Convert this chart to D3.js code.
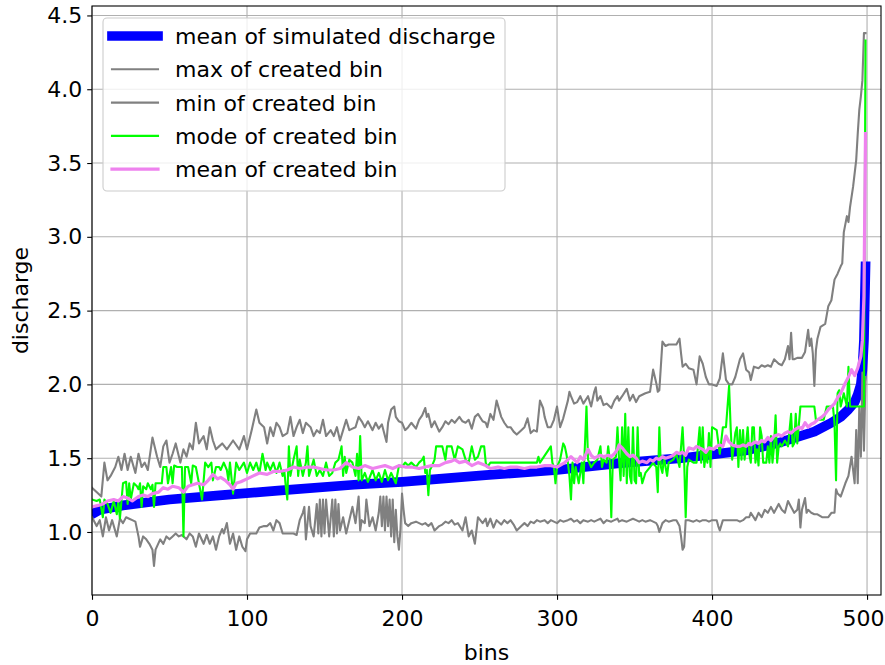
<!DOCTYPE html>
<html>
<head>
<meta charset="utf-8">
<script src="https://cdn.jsdelivr.net/npm/d3@7"></script>
<style>
  body { margin: 0; background: #fff; }
  text { font-family: "DejaVu Sans", sans-serif; }
</style>
</head>
<body>
<div id="chart"></div>
<script>
// tick values
var xTicks = [0, 100, 200, 300, 400, 500];
var yTicks = [1.0, 1.5, 2.0, 2.5, 3.0, 3.5, 4.0, 4.5];

// [bin, discharge]
var meanSimulated = [[0,1.12],[5,1.15],[20,1.18],[50,1.22],[84,1.25],[120,1.28],[169,1.32],[200,1.34],[254,1.385],[300,1.42],[339,1.465],[380,1.50],[423,1.555],[445,1.61],[466,1.68],[477,1.74],[483,1.78],[488,1.83],[492,1.88],[494,1.93],[496,2.0],[497,2.1],[498,2.3],[499,2.8]];

var maxOfBin = [[0,1.30],[4,1.26],[6,1.24],[8,1.47],[10,1.35],[12,1.38],[15,1.44],[17,1.51],[19,1.42],[21,1.53],[23,1.42],[25,1.51],[28,1.40],[30,1.53],[32,1.44],[34,1.47],[36,1.42],[39,1.64],[42,1.51],[44,1.44],[46,1.58],[48,1.62],[50,1.47],[52,1.53],[54,1.60],[57,1.47],[59,1.56],[61,1.51],[63,1.60],[65,1.56],[67,1.74],[69,1.60],[72,1.65],[74,1.56],[76,1.71],[78,1.62],[80,1.56],[82,1.58],
  [84,1.60],[87,1.56],[91,1.62],[95,1.56],[98,1.65],[100,1.56],[103,1.69],[106,1.83],[108,1.74],[111,1.71],[113,1.60],[115,1.71],[117,1.65],[119,1.74],[121,1.71],[123,1.65],[126,1.67],[128,1.78],[130,1.65],[132,1.71],[134,1.76],[136,1.67],[138,1.74],[141,1.71],[143,1.65],[145,1.69],[147,1.67],[149,1.76],[151,1.65],[154,1.69],[156,1.65],[158,1.71],[160,1.62],[162,1.69],[164,1.76],[166,1.69],[168,1.70],
  [170,1.71],[172,1.78],[174,1.75],[176,1.71],[178,1.75],[181,1.69],[183,1.74],[185,1.70],[187,1.73],[190,1.61],[191,1.74],[193,1.83],[195,1.85],[196,1.78],[198,1.75],[200,1.74],[202,1.69],[204,1.71],[206,1.74],[209,1.70],[211,1.76],[213,1.79],[215,1.84],[216,1.78],[217,1.80],[219,1.71],[221,1.75],[224,1.68],[226,1.71],[228,1.75],[230,1.73],[232,1.76],[234,1.74],[237,1.78],[239,1.75],[241,1.74],[243,1.76],[245,1.70],[247,1.78],[249,1.80],[252,1.75],
  [254,1.74],[255,1.71],[257,1.80],[259,1.76],[261,1.89],[264,1.78],[266,1.74],[268,1.71],[270,1.71],[272,1.68],[274,1.66],[277,1.69],[279,1.71],[281,1.77],[283,1.67],[285,1.69],[287,1.68],[289,1.89],[291,1.84],[292,1.78],[294,1.71],[296,1.71],[298,1.76],[300,1.85],[302,1.71],[304,1.77],[307,1.89],[308,1.95],[309,1.92],[311,1.87],[313,1.88],[315,1.92],[317,1.87],[320,1.92],[322,1.85],[324,1.95],[325,1.98],[326,1.89],[328,1.92],[330,1.86],[332,1.87],[335,1.84],[337,1.89],[339,1.92],
  [340,1.89],[342,1.92],[345,1.97],[347,1.89],[349,1.93],[351,1.88],[353,1.92],[355,1.93],[357,1.94],[360,1.95],[362,2.10],[364,2.01],[365,1.95],[366,1.96],[368,2.29],[370,2.26],[372,2.27],[375,2.27],[377,2.27],[379,2.31],[380,2.21],[381,2.12],[383,2.14],[385,2.11],[388,2.10],[390,2.00],[392,2.19],[394,2.14],[396,2.05],[398,2.00],[400,2.00],[403,1.99],[405,2.04],[407,2.21],[409,2.03],[411,2.00],[413,2.00],[415,2.05],[418,2.17],[420,2.21],[422,2.10],
  [424,2.08],[425,2.03],[427,2.12],[430,2.11],[432,2.13],[434,2.12],[436,2.13],[438,2.12],[440,2.17],[443,2.14],[445,2.13],[447,2.17],[449,2.26],[450,2.17],[451,2.35],[452,2.17],[453,2.17],[455,2.18],[458,2.18],[460,2.22],[462,2.37],[463,2.26],[464,2.31],[465,2.21],[466,1.99],[467,2.23],[468,2.31],[470,2.39],[473,2.41],[475,2.53],[477,2.57],[479,2.71],[481,2.75],[483,2.80],[484,2.82],[485,3.03],[487,3.14],[488,3.10],[489,3.20],[491,3.34],[493,3.52],[494,3.70],[495,3.86],[496,3.95],[497,4.06],[498,4.38],[499,4.38]];

var minOfBin = [[0,1.10],[3,1.04],[5,1.08],[7,0.97],[9,1.10],[11,1.01],[13,1.08],[16,0.97],[18,1.09],[20,1.06],[22,1.10],[24,1.09],[26,1.08],[28,1.07],[30,0.97],[31,0.90],[33,0.97],[35,0.95],[37,0.92],[39,0.88],[40,0.77],[41,0.88],[44,0.95],[46,0.92],[48,0.97],[50,0.95],[52,0.97],[54,0.99],[56,0.97],[58,0.98],[61,0.95],[63,0.99],[65,0.97],[67,0.90],[69,0.99],[72,0.92],[74,0.98],[76,0.92],[78,0.97],[80,0.88],[82,0.97],
  [84,1.02],[85,0.99],[87,1.06],[89,0.92],[91,0.99],[93,0.88],[95,0.97],[97,0.90],[99,0.87],[100,0.95],[102,0.99],[104,0.99],[106,0.99],[108,1.03],[111,1.04],[113,1.04],[115,1.06],[117,1.01],[119,1.08],[121,1.06],[123,0.99],[126,0.99],[128,0.99],[130,0.99],[132,0.98],[134,1.08],[136,1.13],[137,1.17],[138,0.95],[140,1.17],[141,1.04],[143,0.97],[145,1.19],[146,0.99],[147,1.22],[148,0.97],[149,1.22],[150,0.99],[151,1.22],[153,0.97],[155,1.22],[156,0.97],[157,1.22],[158,0.99],[159,1.19],[160,1.01],[162,1.10],[164,0.99],[166,1.08],
  [168,1.17],[170,1.06],[172,1.24],[173,1.01],[174,1.08],[176,1.06],[177,1.22],[179,1.04],[181,1.10],[183,1.01],[185,1.13],[186,1.24],[187,1.04],[188,1.24],[189,1.01],[190,1.24],[191,1.04],[192,1.22],[193,0.97],[194,1.22],[195,0.93],[196,1.15],[197,0.97],[198,0.88],[199,1.02],[200,1.26],[201,1.15],[202,1.06],[204,1.04],[206,1.06],[209,1.07],[211,1.06],[213,1.05],[215,1.06],[217,1.04],[219,1.06],[221,1.01],[224,1.04],[226,1.05],[228,1.07],[230,1.06],[232,1.08],[234,1.05],[236,1.06],[239,1.01],[241,1.10],[243,0.97],[245,1.01],[247,0.92],[249,1.10],[252,1.06],
  [254,1.09],[255,1.04],[257,1.09],[259,1.03],[261,1.08],[264,1.05],[266,1.08],[268,1.06],[270,1.08],[272,1.05],[274,1.01],[277,1.04],[279,1.06],[281,1.04],[283,1.07],[285,1.06],[287,1.08],[289,1.07],[292,1.08],[294,1.06],[296,1.08],[298,1.07],[300,1.06],[302,1.08],[304,1.07],[307,1.08],[309,1.09],[311,1.07],[313,1.08],[315,1.06],[317,1.08],[320,1.07],[322,1.08],[324,1.07],[326,1.08],[328,1.09],[330,1.06],[332,1.08],[335,1.07],[337,1.08],
  [339,1.09],[340,1.07],[342,1.08],[345,1.07],[347,1.08],[349,1.09],[351,1.08],[353,1.07],[355,1.08],[357,1.07],[360,1.08],[362,1.07],[364,1.06],[365,1.04],[366,1.00],[368,1.06],[370,1.08],[372,1.07],[375,1.08],[377,1.08],[379,1.04],[380,0.97],[381,0.88],[382,0.90],[383,1.08],[385,1.08],[388,1.07],[390,1.08],[392,1.07],[394,1.08],[396,1.08],[398,1.07],[400,1.08],[403,1.08],[404,1.04],[405,1.01],[407,1.08],[409,1.08],[411,1.08],[413,1.08],[416,1.08],[418,1.07],[420,1.08],[422,1.10],
  [424,1.10],[425,1.13],[428,1.08],[430,1.13],[432,1.10],[434,1.15],[436,1.13],[438,1.17],[440,1.13],[443,1.19],[445,1.15],[447,1.13],[449,1.21],[451,1.17],[453,1.13],[455,1.15],[456,1.22],[457,1.03],[458,1.15],[460,1.23],[461,1.13],[462,1.15],[464,1.13],[466,1.12],[468,1.12],[471,1.10],[473,1.10],[475,1.10],[477,1.13],[479,1.13],[480,1.29],[481,1.26],[483,1.24],[486,1.33],[488,1.38],[490,1.51],[492,1.33],[493,1.69],[494,1.33],[495,1.85],[496,1.51],[497,2.08],[498,1.55],[499,2.05]];

var modeOfBin = [[0,1.22],[3,1.21],[5,1.22],[7,1.10],[8,1.22],[10,1.19],[12,1.13],[14,1.21],[16,1.12],[17,1.21],[18,1.09],[19,1.21],[20,1.33],[22,1.34],[23,1.19],[24,1.33],[25,1.22],[27,1.33],[29,1.31],[30,1.29],[31,1.33],[32,1.17],[33,1.31],[35,1.29],[36,1.33],[38,1.29],[39,1.32],[40,1.17],[41,1.33],[43,1.33],[45,1.33],[46,1.44],[48,1.44],[49,1.33],[51,1.44],[52,1.33],[53,1.45],[55,1.44],[58,1.44],[59,0.97],[60,1.44],[62,1.44],[64,1.33],[65,1.45],[67,1.44],[69,1.33],[71,1.22],[73,1.47],[75,1.44],[77,1.47],[78,1.35],[80,1.44],[82,1.44],
  [83,1.42],[85,1.47],[87,1.42],[88,1.35],[89,1.47],[91,1.26],[93,1.47],[95,1.42],[98,1.47],[100,1.40],[102,1.47],[104,1.42],[106,1.47],[108,1.40],[110,1.53],[112,1.42],[113,1.47],[115,1.42],[117,1.47],[119,1.40],[121,1.47],[123,1.38],[124,1.42],[125,1.31],[126,1.22],[127,1.58],[128,1.38],[130,1.49],[132,1.58],[133,1.38],[134,1.49],[136,1.38],[138,1.47],[139,1.58],[140,1.38],[143,1.49],[145,1.38],[147,1.42],[149,1.38],[151,1.47],[153,1.38],[155,1.40],[157,1.47],[159,1.49],[161,1.58],[162,1.38],[163,1.51],[164,1.40],[166,1.49],
  [168,1.47],[170,1.38],[171,1.53],[172,1.35],[173,1.65],[174,1.35],[176,1.40],[178,1.34],[181,1.42],[183,1.35],[185,1.40],[187,1.34],[189,1.42],[191,1.35],[193,1.40],[196,1.33],[198,1.45],[200,1.44],[202,1.47],[204,1.45],[206,1.47],[209,1.44],[211,1.47],[213,1.49],[214,1.51],[215,1.40],[216,1.42],[217,1.25],[218,1.42],[219,1.44],[221,1.49],[222,1.58],[226,1.58],[228,1.49],[229,1.58],[232,1.58],[234,1.49],[236,1.58],[239,1.56],[241,1.49],[243,1.47],[245,1.58],[247,1.49],[249,1.51],[251,1.58],[253,1.58],
  [254,1.47],[255,1.44],[257,1.47],[287,1.47],[288,1.51],[289,1.47],[296,1.58],[297,1.47],[298,1.44],[299,1.33],[300,1.44],[302,1.49],[304,1.60],[305,1.58],[306,1.53],[307,1.47],[308,1.38],[309,1.22],[310,1.47],[311,1.33],[312,1.44],[314,1.33],[316,1.47],[317,1.33],[319,1.85],[320,1.49],[322,1.44],[324,1.47],[326,1.49],[328,1.58],[329,1.44],[330,1.49],[332,1.47],[333,1.58],[334,1.49],[335,1.10],[336,1.49],[338,1.51],
  [339,1.71],[340,1.49],[341,1.35],[342,1.71],[343,1.38],[344,1.80],[345,1.33],[346,1.71],[347,1.38],[348,1.33],[349,1.71],[350,1.35],[351,1.33],[352,1.71],[353,1.38],[354,1.40],[355,1.33],[357,1.40],[360,1.44],[362,1.47],[364,1.44],[365,1.27],[366,1.71],[367,1.44],[368,1.40],[369,1.51],[370,1.44],[371,1.38],[372,1.47],[375,1.49],[377,1.53],[379,1.44],[381,1.71],[382,1.49],[383,1.10],[384,1.44],[385,1.49],[388,1.47],[390,1.47],[392,1.71],[393,1.47],[394,1.71],[395,1.44],[396,1.53],[397,1.47],[398,1.67],[399,1.44],[400,1.71],[403,1.69],[405,1.53],[407,1.71],[409,1.71],[411,1.99],[412,1.71],[413,1.49],[415,1.67],[416,1.71],[417,1.44],[418,1.69],[419,1.49],[420,1.69],[421,1.49],
  [423,1.71],[424,1.53],[425,1.47],[426,1.71],[427,1.71],[428,1.47],[429,1.56],[430,1.45],[431,1.71],[432,1.65],[433,1.47],[435,1.47],[436,1.58],[437,1.47],[438,1.65],[439,1.47],[440,1.58],[441,1.79],[442,1.47],[443,1.58],[444,1.60],[445,1.58],[447,1.62],[449,1.58],[451,1.80],[452,1.58],[453,1.60],[454,1.80],[455,1.60],[457,1.85],[466,1.85],[467,1.76],[472,1.76],[474,1.85],[478,1.85],[479,1.74],[480,1.35],[481,1.94],[482,1.96],[483,1.85],[485,1.94],[487,1.85],[488,2.12],[489,1.85],[498,1.85],[499,4.33]];

var meanOfBin = [[0,1.17],[4,1.18],[7,1.19],[10,1.21],[14,1.22],[17,1.21],[20,1.24],[23,1.23],[26,1.21],[30,1.24],[33,1.25],[36,1.24],[39,1.26],[43,1.27],[46,1.30],[49,1.29],[52,1.31],[56,1.30],[59,1.27],[62,1.31],[65,1.32],[68,1.33],[72,1.32],[75,1.35],[78,1.39],[81,1.36],[83,1.37],[86,1.35],[89,1.32],[91,1.29],[93,1.33],[96,1.34],[100,1.36],[104,1.38],[108,1.40],[113,1.39],[117,1.41],[121,1.41],[126,1.42],[130,1.44],[134,1.43],[139,1.44],[143,1.44],[147,1.43],[151,1.42],[156,1.42],[160,1.43],[164,1.47],[168,1.44],
  [172,1.43],[176,1.45],[181,1.43],[185,1.44],[189,1.45],[194,1.43],[198,1.45],[202,1.44],[206,1.44],[211,1.43],[215,1.44],[219,1.45],[224,1.45],[228,1.47],[232,1.48],[234,1.49],[237,1.47],[241,1.48],[245,1.45],[249,1.47],[254,1.45],[257,1.43],[262,1.44],[266,1.43],[270,1.44],[274,1.44],[279,1.43],[283,1.44],[287,1.44],[292,1.45],[296,1.45],[300,1.44],[305,1.47],[309,1.51],[311,1.49],[313,1.47],[315,1.51],[317,1.49],[320,1.56],[322,1.52],[324,1.50],[326,1.51],[328,1.52],[330,1.51],[333,1.52],[335,1.51],[337,1.53],
  [339,1.56],[340,1.59],[342,1.57],[345,1.53],[347,1.51],[349,1.52],[351,1.50],[353,1.47],[355,1.48],[358,1.47],[360,1.49],[362,1.48],[364,1.50],[366,1.49],[368,1.51],[370,1.50],[373,1.51],[375,1.52],[377,1.54],[379,1.53],[381,1.54],[383,1.52],[385,1.57],[388,1.56],[390,1.58],[392,1.57],[394,1.56],[396,1.54],[398,1.57],[401,1.56],[403,1.58],[405,1.59],[407,1.58],[409,1.65],[411,1.61],[413,1.59],[416,1.58],[418,1.58],[420,1.59],[422,1.58],
  [424,1.60],[425,1.59],[428,1.61],[430,1.60],[432,1.62],[434,1.61],[436,1.64],[438,1.62],[440,1.65],[443,1.66],[445,1.65],[447,1.67],[449,1.68],[451,1.67],[453,1.69],[456,1.71],[458,1.70],[460,1.74],[462,1.71],[464,1.73],[466,1.74],[468,1.76],[471,1.78],[473,1.80],[475,1.83],[477,1.85],[479,1.87],[481,1.91],[483,1.94],[486,2.01],[488,2.05],[490,2.10],[492,2.06],[494,2.11],[496,2.19],[497,2.30],[498,2.60],[499,3.70]];

var series = [
  { label: "mean of simulated discharge", data: meanSimulated, color: "#0000ff", width: 9.7 },
  { label: "max of created bin", data: maxOfBin, color: "#808080", width: 2.1 },
  { label: "min of created bin", data: minOfBin, color: "#808080", width: 2.1 },
  { label: "mode of created bin", data: modeOfBin, color: "#00ff00", width: 2.1 },
  { label: "mean of created bin", data: meanOfBin, color: "#ee82ee", width: 3.2 }
];

var W = 885, H = 665;
var FS = "22px";
var margin = { top: 6, right: 4, bottom: 70, left: 92 };
var width = W - margin.left - margin.right;
var height = H - margin.top - margin.bottom;

var svg = d3.select("#chart").append("svg")
  .attr("width", W)
  .attr("height", H);

var g = svg.append("g")
  .attr("transform", "translate(" + margin.left + "," + margin.top + ")");

var x = d3.scaleLinear().domain([0, 509]).range([0, width]);
var y = d3.scaleLinear().domain([0.573, 4.564]).range([height, 0]);

// grid
g.append("g").selectAll("line")
  .data(xTicks).enter().append("line")
  .attr("x1", function (d) { return x(d); })
  .attr("x2", function (d) { return x(d); })
  .attr("y1", 0).attr("y2", height)
  .attr("stroke", "#b0b0b0").attr("stroke-width", 1.1);
g.append("g").selectAll("line")
  .data(yTicks).enter().append("line")
  .attr("y1", function (d) { return y(d); })
  .attr("y2", function (d) { return y(d); })
  .attr("x1", 0).attr("x2", width)
  .attr("stroke", "#b0b0b0").attr("stroke-width", 1.1);

// clip for the lines
g.append("defs").append("clipPath").attr("id", "plotclip")
  .append("rect").attr("width", width).attr("height", height);

var line = d3.line()
  .x(function (d) { return x(d[0]); })
  .y(function (d) { return y(d[1]); });

var lines = g.append("g").attr("clip-path", "url(#plotclip)");
series.forEach(function (s) {
  lines.append("path")
    .datum(s.data)
    .attr("d", line)
    .attr("fill", "none")
    .attr("stroke", s.color)
    .attr("stroke-width", s.width)
    .attr("stroke-linejoin", "round")
    .attr("stroke-linecap", "square");
});

// axes
var xAxis = g.append("g")
  .attr("transform", "translate(0," + height + ")")
  .call(d3.axisBottom(x).tickValues(xTicks).tickSize(4.8).tickPadding(11).tickFormat(d3.format("d")));
var yAxis = g.append("g")
  .call(d3.axisLeft(y).tickValues(yTicks).tickSize(4.8).tickPadding(5).tickFormat(d3.format(".1f")));
[xAxis, yAxis].forEach(function (a) {
  a.select(".domain").remove();
  a.selectAll("line").attr("stroke", "#000").attr("stroke-width", 1.1);
  a.selectAll("text").attr("fill", "#000")
    .style("font-family", "'DejaVu Sans', sans-serif")
    .style("font-size", FS);
});
// keep the last x label inside the page
xAxis.selectAll(".tick text").filter(function (d) { return d === 500; }).attr("x", -4);

// frame
g.append("rect")
  .attr("width", width).attr("height", height)
  .attr("fill", "none").attr("stroke", "#000").attr("stroke-width", 1.1);

// axis titles
svg.append("text")
  .attr("x", margin.left + width / 2)
  .attr("y", 660)
  .attr("text-anchor", "middle")
  .style("font-size", FS)
  .text("bins");
svg.append("text")
  .attr("transform", "translate(28," + (margin.top + height / 2) + ") rotate(-90)")
  .attr("text-anchor", "middle")
  .style("font-size", FS)
  .text("discharge");

// legend
var legend = svg.append("g");
legend.append("rect")
  .attr("x", 103).attr("y", 18)
  .attr("width", 402).attr("height", 173)
  .attr("rx", 4)
  .attr("fill", "#fff").attr("fill-opacity", 0.8)
  .attr("stroke", "#cccccc").attr("stroke-width", 1.1);
series.forEach(function (s, i) {
  var cy = 36 + i * 33.3;
  legend.append("line")
    .attr("x1", 112).attr("x2", 158)
    .attr("y1", cy).attr("y2", cy)
    .attr("stroke", s.color)
    .attr("stroke-width", s.width)
    .attr("stroke-linecap", "square");
  legend.append("text")
    .attr("x", 175).attr("y", cy)
    .attr("dy", "0.36em")
    .style("font-size", FS)
    .text(s.label);
});
</script>
</body>
</html>
